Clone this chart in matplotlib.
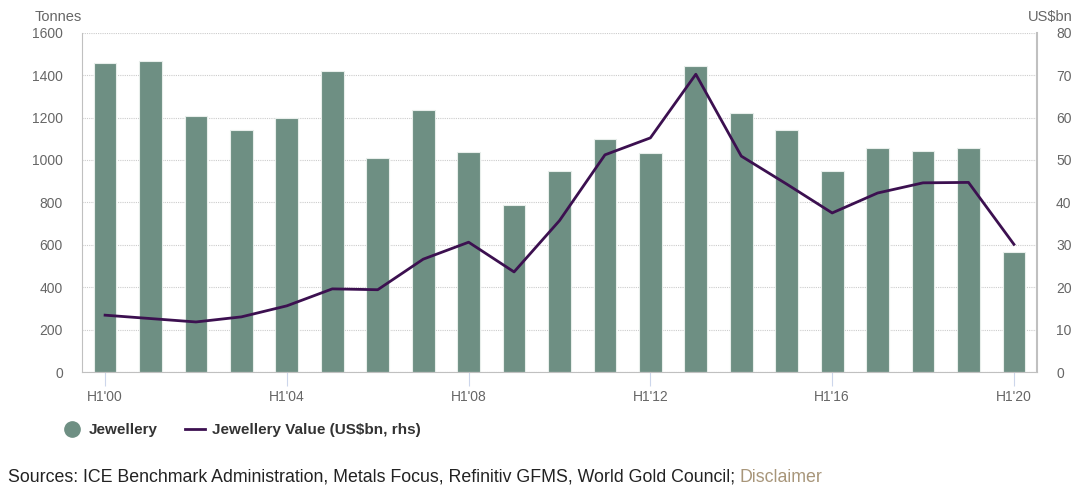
import matplotlib.pyplot as plt
from matplotlib.lines import Line2D

plt.rcParams['font.family'] = ['Liberation Sans', 'DejaVu Sans']

# H1 jewellery demand (tonnes) and value (US$bn)
years = list(range(2000, 2021))
tonnes = [1455, 1466, 1206, 1141, 1199, 1419, 1009, 1234, 1037, 789, 948,
          1099, 1031, 1443, 1223, 1140, 948, 1056, 1043, 1056, 567]
value_bn = [13.4, 12.6, 11.8, 13.0, 15.6, 19.6, 19.4, 26.6, 30.6, 23.6, 35.7,
            51.2, 55.2, 70.2, 50.9, 44.3, 37.5, 42.2, 44.6, 44.7, 30.1]
tick_years = [2000, 2004, 2008, 2012, 2016, 2020]
tick_labels = ["H1'%02d" % (y % 100) for y in tick_years]

bar_color = '#6e8f83'
line_color = '#3c1050'
label_color = '#666666'

fig = plt.figure(figsize=(10.88, 4.9), dpi=100)
ax = fig.add_axes([0.0757, 0.2408, 0.8771, 0.6925])
ax2 = ax.twinx()

ax.bar(years, tonnes, width=0.5, color=bar_color, edgecolor='#e8eeeb',
       linewidth=0.8, zorder=2)
ax2.plot(years, value_bn, color=line_color, linewidth=2, zorder=3)

ax.set_xlim(1999.5, 2020.5)
ax.set_ylim(0, 1600)
ax.set_yticks(range(0, 1601, 200))
ax2.set_ylim(0, 80)
ax2.set_yticks(range(0, 81, 10))

ax.set_xticks(tick_years)
ax.set_xticklabels(tick_labels)

ax.grid(axis='y', linestyle=(0, (1, 1)), color='#cccccc', linewidth=0.8, zorder=0)
ax.set_axisbelow(True)

for a in (ax, ax2):
    for s in a.spines.values():
        s.set_visible(False)
    a.tick_params(labelsize=10, labelcolor=label_color)
ax.spines['left'].set_visible(True)
ax.spines['left'].set_color('#c0c0c0')
ax.spines['bottom'].set_visible(True)
ax.spines['bottom'].set_color('#c0c0c0')
ax2.spines['right'].set_visible(True)
ax2.spines['right'].set_color('#c0c0c0')
ax2.spines['right'].set_linewidth(1.5)

ax.tick_params(axis='y', length=0, pad=14)
ax2.tick_params(axis='y', length=0, pad=14)
ax.tick_params(axis='x', length=10, color='#ccd6eb', pad=3)

fig.text(0.032, 0.965, 'Tonnes', fontsize=10.5, color=label_color, va='center')
fig.text(0.986, 0.965, 'US$bn', fontsize=10.5, color=label_color, va='center', ha='right')

handles = [
    Line2D([], [], marker='o', linestyle='none', markersize=11,
           markerfacecolor=bar_color, markeredgecolor=bar_color),
    Line2D([], [], color=line_color, linewidth=2),
]
fig.legend(handles, ['Jewellery', 'Jewellery Value (US$bn, rhs)'],
           loc='center left', bbox_to_anchor=(0.044, 0.122), ncol=2,
           frameon=False, handlelength=1.3, handletextpad=0.45, columnspacing=1.8,
           prop={'weight': 'bold', 'size': 11}, labelcolor='#333333')

src = fig.text(0.007, 0.017, 'Sources: ICE Benchmark Administration, Metals Focus, '
               'Refinitiv GFMS, World Gold Council; ', fontsize=12.8, color='#222222',
               va='baseline')
fig.canvas.draw()
bb = src.get_window_extent()
fig.text(bb.x1 / fig.bbox.width, 0.017, 'Disclaimer', fontsize=12.8,
         color='#a8967a', va='baseline')

fig.savefig('out.png', dpi=100)
